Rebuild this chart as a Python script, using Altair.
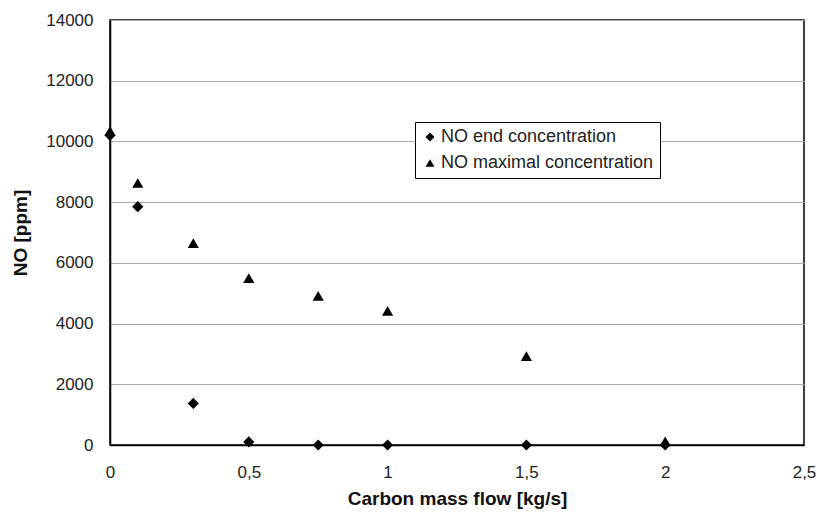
import altair as alt
import pandas as pd

x_vals = [0, 0.1, 0.3, 0.5, 0.75, 1, 1.5, 2]
no_end = [10200, 7850, 1370, 100, 0, 0, 0, 0]
no_max = [10350, 8630, 6650, 5500, 4910, 4420, 2930, 120]
series_names = ["NO end concentration", "NO maximal concentration"]

rows = []
for xv, v in zip(x_vals, no_end):
    rows.append({"x": xv, "y": v, "s": series_names[0]})
for xv, v in zip(x_vals, no_max):
    rows.append({"x": xv, "y": v, "s": series_names[1]})
df = pd.DataFrame(rows)

font = "Liberation Sans"

chart = alt.Chart(df).mark_point(filled=True, color="black", opacity=1, size=125).encode(
    x=alt.X("x:Q", scale=alt.Scale(domain=[0, 2.5], nice=False, zero=False),
            axis=alt.Axis(title="Carbon mass flow [kg/s]", values=[0, 0.5, 1, 1.5, 2, 2.5],
                          labelExpr="replace(format(datum.value, ''), '.', ',')",
                          grid=False, ticks=False, labelPadding=19, titlePadding=9,
                          labelFlush=False)),
    y=alt.Y("y:Q", scale=alt.Scale(domain=[0, 14000], nice=False),
            axis=alt.Axis(title="NO [ppm]", values=list(range(0, 14001, 2000)), format="d",
                          grid=True, ticks=False, labelPadding=17, titlePadding=15)),
    shape=alt.Shape("s:N", scale=alt.Scale(domain=series_names, range=["diamond", "triangle-up"]),
                    legend=alt.Legend(title=None, orient="none", legendX=305, legendY=102,
                                      strokeColor="black", fillColor="white", padding=6,
                                      symbolFillColor="black", symbolStrokeColor="black",
                                      symbolSize=80, labelFontSize=18, labelFont=font,
                                      labelColor="#222", rowPadding=8, labelOffset=2,
                                      labelLimit=400)),
    order=alt.Order("s:N", sort="ascending"),
).properties(
    width=694, height=425,
    autosize=alt.AutoSizeParams(type="none"),
    padding={"left": 110, "top": 20, "right": 13, "bottom": 69},
).configure_view(
    stroke="black", strokeWidth=1.5
).configure_axis(
    labelFont=font, titleFont=font, labelFontSize=17, titleFontSize=19,
    labelColor="#222", titleColor="#111", titleFontWeight="bold",
    domainColor="black", domainWidth=1.5, gridColor="#aaaaaa", gridWidth=1,
)

chart.save("out.html", embed_options={"renderer": "svg", "actions": False})
